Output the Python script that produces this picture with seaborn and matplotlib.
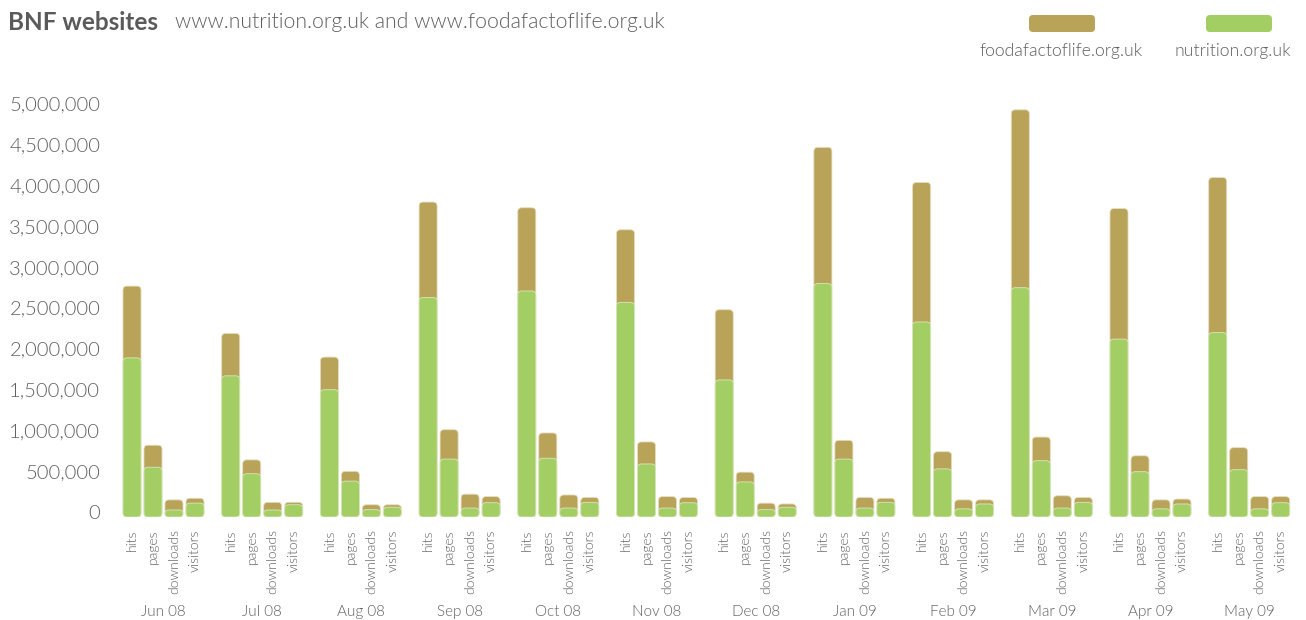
import numpy as np
import pandas as pd
import seaborn as sns
import matplotlib
matplotlib.use("Agg")
import matplotlib.pyplot as plt
from matplotlib.patches import FancyBboxPatch
import matplotlib.transforms as mtransforms

# ---------------- data ----------------
months = ["Jun 08", "Jul 08", "Aug 08", "Sep 08", "Oct 08", "Nov 08",
          "Dec 08", "Jan 09", "Feb 09", "Mar 09", "Apr 09", "May 09"]
metrics = ["hits", "pages", "downloads", "visitors"]

# nutrition.org.uk (lower, green segment)
nutrition_hits      = [1950000, 1730000, 1560000, 2690000, 2770000, 2630000, 1680000, 2860000, 2390000, 2810000, 2180000, 2260000]
nutrition_pages     = [610000, 530000, 440000, 710000, 720000, 650000, 430000, 710000, 590000, 690000, 555000, 580000]
nutrition_downloads = [86000, 86000, 90000, 110000, 110000, 110000, 90000, 110000, 100000, 110000, 100000, 100000]
nutrition_visitors  = [170000, 150000, 120000, 175000, 180000, 175000, 120000, 180000, 160000, 180000, 160000, 175000]

# foodafactoflife.org.uk (upper, brown segment)
food_hits      = [880000, 520000, 400000, 1170000, 1020000, 890000, 860000, 1670000, 1710000, 2180000, 1600000, 1900000]
food_pages     = [270000, 170000, 120000, 360000, 310000, 270000, 120000, 230000, 210000, 290000, 195000, 270000]
food_downloads = [124000, 94000, 60000, 170000, 160000, 140000, 80000, 130000, 110000, 150000, 110000, 150000]
food_visitors  = [60000, 30000, 30000, 75000, 60000, 65000, 40000, 50000, 50000, 60000, 60000, 75000]

y_ticks = [0, 500000, 1000000, 1500000, 2000000, 2500000, 3000000, 3500000, 4000000, 4500000, 5000000]

# ---------------- styling ----------------
BROWN = "#B9A359"
GREEN = "#A3CE63"
TXT = "#5f5f5f"
GROUP_STEP = 4.7
LIGHT = 300

sns.set_theme(style="white")
plt.rcParams["font.family"] = ["Lato", "DejaVu Sans"]

nut = {"hits": nutrition_hits, "pages": nutrition_pages,
       "downloads": nutrition_downloads, "visitors": nutrition_visitors}
food = {"hits": food_hits, "pages": food_pages,
        "downloads": food_downloads, "visitors": food_visitors}

rows = []
for i, m in enumerate(months):
    for j, k in enumerate(metrics):
        rows.append({"month": m, "metric": k, "pos": i * GROUP_STEP + j,
                     "nutrition": nut[k][i], "total": nut[k][i] + food[k][i]})
df = pd.DataFrame(rows)

W, H, DPI = 1306, 620, 100
fig = plt.figure(figsize=(W / DPI, H / DPI), dpi=DPI)
fig.patch.set_facecolor("white")

# axes placement in pixels
ax_l, ax_r = 110, 1300
base_px, top_val_px = 517, 100.0
ax = fig.add_axes([ax_l / W, (H - base_px) / H, (ax_r - ax_l) / W, (base_px - top_val_px) / H])
px_per_m = 81.6
ymax = (base_px - top_val_px) / px_per_m * 1e6

sns.barplot(data=df, x="pos", y="total", native_scale=True, color=BROWN,
            saturation=1, width=0.86, errorbar=None, ax=ax)
n_brown = len(ax.patches)
sns.barplot(data=df, x="pos", y="nutrition", native_scale=True, color=GREEN,
            saturation=1, width=0.86, errorbar=None, ax=ax)

x0 = 132
unit = 21.0
ax.set_xlim((ax_l - x0) / unit, (ax_r - x0) / unit)
ax.set_ylim(0, ymax)

# rounded corners for bars
fig.canvas.draw()
p0 = ax.transData.transform((0, 0))
p1 = ax.transData.transform((1, 1))
px_x = p1[0] - p0[0]          # pixels per x unit
px_y = p1[1] - p0[1]          # pixels per y unit
aspect = px_x / px_y
for idx, p in enumerate(list(ax.patches)):
    x, y = p.get_x(), p.get_y()
    w, h = p.get_width(), p.get_height()
    fc = p.get_facecolor()
    r_px = min(4.0, h * px_y / 2, w * px_x / 2)
    fb = FancyBboxPatch((x, y), w, h,
                        boxstyle=f"round,pad=0,rounding_size={r_px / px_x}",
                        mutation_aspect=aspect, facecolor=fc,
                        edgecolor="#e6dfc4" if idx < n_brown else "#d8e8bf",
                        linewidth=0.6, zorder=p.get_zorder())
    p.remove()
    ax.add_patch(fb)

for s in ax.spines.values():
    s.set_visible(False)
ax.grid(False)

ax.set_yticks(y_ticks)
ax.set_yticklabels([f"{v:,}" for v in y_ticks], fontsize=14.5, color=TXT, fontweight=LIGHT)
ax.tick_params(axis="y", length=0, pad=7)
off = mtransforms.ScaledTranslation(0, 5 / DPI, fig.dpi_scale_trans)
for lab in ax.get_yticklabels():
    lab.set_transform(lab.get_transform() + off)

ax.set_xticks(df["pos"].tolist())
ax.set_xticklabels(df["metric"].tolist(), rotation=90, fontsize=10, color=TXT, fontweight=LIGHT)
ax.tick_params(axis="x", length=0, pad=9)
ax.set_xlabel("")
ax.set_ylabel("")

trans = mtransforms.blended_transform_factory(ax.transData, fig.transFigure)
for i, m in enumerate(months):
    ax.text(i * GROUP_STEP + 1.5, 1 - 612 / H, m, transform=trans, ha="center",
            va="center", fontsize=11, color=TXT, fontweight=LIGHT)

# title
fig.text(8 / W, 1 - 22 / H, "BNF websites", fontsize=17.5, fontweight="bold",
         color="#5a5a5a", ha="left", va="center")
fig.text(175 / W, 1 - 22 / H, "www.nutrition.org.uk and www.foodafactoflife.org.uk",
         fontsize=15.3, color=TXT, ha="left", va="center", fontweight=LIGHT)

# legend
for (xl, xr, col, lab, lx) in [(1029, 1095, BROWN, "foodafactoflife.org.uk", 1061),
                               (1206, 1272, GREEN, "nutrition.org.uk", 1233)]:
    sw = FancyBboxPatch((xl / W, 1 - 32 / H), (xr - xl) / W, 17 / H,
                        boxstyle=f"round,pad=0,rounding_size={4 / W}",
                        mutation_aspect=W / H, transform=fig.transFigure,
                        facecolor=col, edgecolor="none")
    fig.patches.append(sw)
    fig.text(lx / W, 1 - 51 / H, lab, fontsize=12.7, color=TXT,
             ha="center", va="center", fontweight=LIGHT)

fig.savefig("out.png", dpi=DPI, facecolor="white")
